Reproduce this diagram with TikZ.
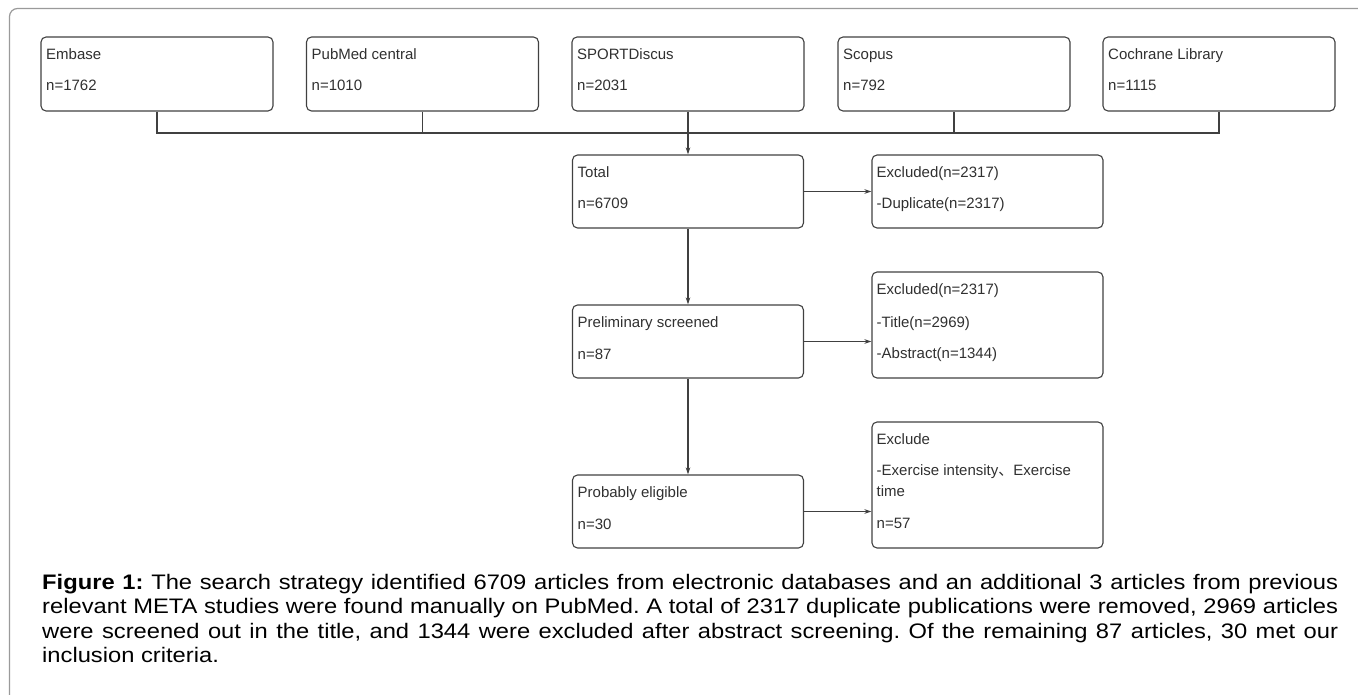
\documentclass[tikz,border=0pt]{standalone}
\usepackage{fontspec}
\setmainfont{Liberation Sans}
\newfontfamily\cjkfont{Noto Sans CJK SC}
\newfontfamily\capfont[FakeStretch=1.13]{Liberation Sans}
\usetikzlibrary{arrows.meta,calc}
\definecolor{boxcol}{HTML}{404040}
\definecolor{txtcol}{HTML}{303030}
\definecolor{framecol}{HTML}{9A9A9A}
\frenchspacing
\tikzset{
  box/.style={draw=boxcol, line width=1.1pt, rounded corners=5pt, rectangle, inner sep=0pt},
  txt/.style={anchor=base west, inner sep=0pt, text=txtcol, font=\fontsize{15}{18}\selectfont},
  conn/.style={draw=boxcol, line width=1.1pt},
  arr/.style={conn, -{Stealth[length=7pt,width=4.5pt]}},
  capline/.style={anchor=base west, inner sep=0pt, text=black, font=\capfont\fontsize{21}{24}\selectfont},
}
\begin{document}
\begin{tikzpicture}[x=1pt,y=-1pt]
\useasboundingbox (0,0) rectangle (1358,695);
% outer frame
\draw[framecol, line width=1.2pt, rounded corners=8pt] (9.5,700) -- (9.5,8.5) -- (1362,8.5);

% top row boxes
\node[box, minimum width=232, minimum height=74] (embase) at (157,74) {};
\node[box, minimum width=232, minimum height=74] (pubmed) at (422.5,74) {};
\node[box, minimum width=232, minimum height=74] (sport) at (688,74) {};
\node[box, minimum width=232, minimum height=74] (scopus) at (954,74) {};
\node[box, minimum width=232, minimum height=74] (cochrane) at (1219,74) {};

\node[txt] (embaseA) at (46,59.5) {Embase};
\node[txt] (embaseB) at (46,91) {n=1762};
\node[txt] (pubmedA) at (311.5,59.5) {PubMed central};
\node[txt] (pubmedB) at (311.5,91) {n=1010};
\node[txt] (sportA) at (577,59.5) {SPORTDiscus};
\node[txt] (sportB) at (577,91) {n=2031};
\node[txt] (scopusA) at (843,59.5) {Scopus};
\node[txt] (scopusB) at (843,91) {n=792};
\node[txt] (cochraneA) at (1108,59.5) {Cochrane Library};
\node[txt] (cochraneB) at (1108,91) {n=1115};

% main column
\node[box, minimum width=231, minimum height=73] (total) at (688,191.5) {};
\node[box, minimum width=231, minimum height=73] (prelim) at (688,341.5) {};
\node[box, minimum width=231, minimum height=73] (prob) at (688,511.5) {};

\node[txt] (totalA) at (577.5,177.5) {Total};
\node[txt] (totalB) at (577.5,209) {n=6709};
\node[txt] (prelimA) at (577.5,327.5) {Preliminary screened};
\node[txt] (prelimB) at (577.5,359) {n=87};
\node[txt] (probA) at (577.5,497.5) {Probably eligible};
\node[txt] (probB) at (577.5,529) {n=30};

% exclusion column
\node[box, minimum width=231, minimum height=73] (ex1) at (987.5,191.5) {};
\node[box, minimum width=231, minimum height=106] (ex2) at (987.5,325) {};
\node[box, minimum width=231, minimum height=126] (ex3) at (987.5,485) {};

\node[txt] (ex1A) at (876.5,177.5) {Excluded(n=2317)};
\node[txt] (ex1B) at (876.5,209) {-Duplicate(n=2317)};
\node[txt] (ex2A) at (876.5,294.5) {Excluded(n=2317)};
\node[txt] (ex2B) at (876.5,327) {-Title(n=2969)};
\node[txt] (ex2C) at (876.5,358.5) {-Abstract(n=1344)};
\node[txt] (ex3A) at (876.5,444) {Exclude};
\node[txt] (ex3B) at (876.5,475.5) {-Exercise intensity{\cjkfont 、}Exercise};
\node[txt] (ex3C) at (876.5,496.5) {time};
\node[txt] (ex3D) at (876.5,528.5) {n=57};

% connectors
\coordinate (bus) at (0,133);
\draw[conn] (embase.south) -- (embase.south |- bus) -- (cochrane.south |- bus) -- (cochrane.south);
\draw[conn] (pubmed.south) -- (pubmed.south |- bus);
\draw[conn] (scopus.south) -- (scopus.south |- bus);
\draw[arr] (sport.south) -- (total.north);
\draw[arr] (total.south) -- (prelim.north);
\draw[arr] (prelim.south) -- (prob.north);
\draw[arr] (total.east) -- (total.east -| ex1.west);
\draw[arr] (prelim.east) -- (prelim.east -| ex2.west);
\draw[arr] (prob.east) -- (prob.east -| ex3.west);

% caption
\node[capline] (cap1) at (42,589) {\hbox to 1296pt{\textbf{Figure 1:} The search strategy identified 6709 articles from electronic databases and an additional 3 articles from previous}};
\node[capline] (cap2) at (42,613.5) {\hbox to 1296pt{relevant META studies were found manually on PubMed. A total of 2317 duplicate publications were removed, 2969 articles}};
\node[capline] (cap3) at (42,638) {\hbox to 1296pt{were screened out in the title, and 1344 were excluded after abstract screening. Of the remaining 87 articles, 30 met our}};
\node[capline] (cap4) at (42,662.5) {inclusion criteria.};
\end{tikzpicture}
\end{document}
